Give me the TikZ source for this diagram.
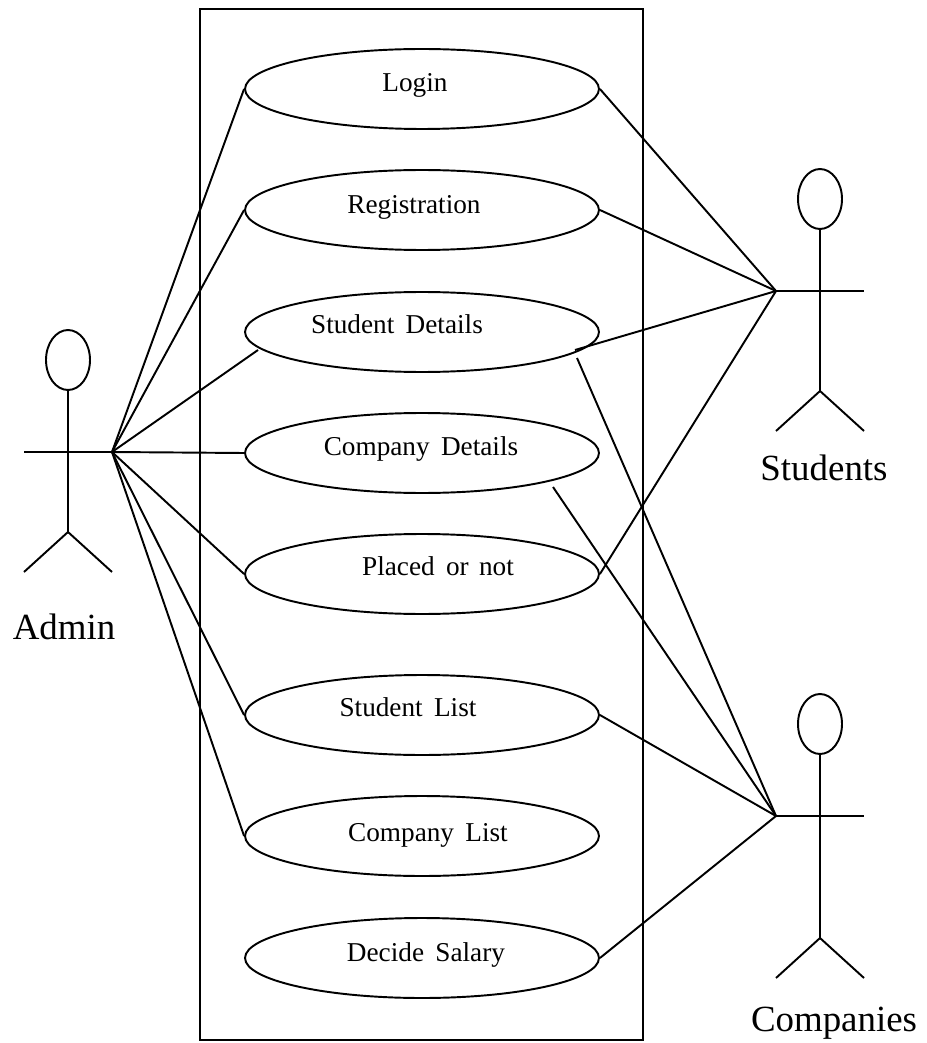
\documentclass[tikz,border=0pt]{standalone}
\usepackage{fontspec}
\setmainfont{Liberation Serif}
\usetikzlibrary{shapes.geometric}

\tikzset{
  usecase/.style={draw, ellipse, minimum width=7.08cm, minimum height=1.6cm, inner sep=0pt},
  uselabel/.style={font=\fontsize{15.5}{18}\selectfont, inner sep=0pt},
  actorlabel/.style={font=\fontsize{21}{25}\selectfont, inner sep=0pt},
}

\begin{document}
\begin{tikzpicture}[x=0.02cm, y=-0.02cm, line width=1.1pt]

\useasboundingbox (0,0) rectangle (926,1043);

%---------------- System box ----------------%
\node[draw, minimum width=8.86cm, minimum height=20.62cm, inner sep=0pt] (sysbox) at (421.5,524.5) {};

%---------------- Use cases ----------------%
\foreach \name/\y in {login/89, regist/210, studdet/332, compdet/453, placed/574, studlist/715, complist/836, salary/958} {
  \node[usecase] (\name) at (422,\y) {};
}

% labels sit a little off the ellipse centres
\node[uselabel] (loginT)    at (415,85)  {Login};
\node[uselabel] (registT)   at (414,207) {Registration};
\node[uselabel] (studdetT)  at (397,324) {Student\, Details};
\node[uselabel] (compdetT)  at (421,449) {Company\, Details};
\node[uselabel] (placedT)   at (438,566) {Placed\, or\hspace{2pt} not};
\node[uselabel] (studlistT) at (408,707) {Student\, List};
\node[uselabel] (complistT) at (428,835) {Company\, List};
\node[uselabel] (salaryT)   at (426,955) {Decide\, Salary};

%---------------- Actors ----------------%
% name / x / y of the arms / hip below arms
\foreach \name/\x/\y/\hip in {admin/68/452/80, students/820/291/100, companies/820/816/122} {
  \node[draw, ellipse, minimum width=0.88cm, minimum height=1.2cm, inner sep=0pt] (\name Head) at (\x,\y-92) {};
  \coordinate (\name Hip) at (\x,\y+\hip);
  \coordinate (\name Left) at (\x-44,\y);
  \coordinate (\name Right) at (\x+44,\y);
  \coordinate (\name FootL) at (\x-44,\y+\hip+40);
  \coordinate (\name FootR) at (\x+44,\y+\hip+40);
  \draw (\name Head) -- (\name Hip);
  \draw (\name Left) -- (\name Right);
  \draw (\name FootL) -- (\name Hip) -- (\name FootR);
}
\node[actorlabel] (adminT)     at (64,627)  {Admin};
\node[actorlabel] (studentsT)  at (824,468) {Students};
\node[actorlabel] (companiesT) at (834,1023) {Companies};

%---------------- Connectors ----------------%
\coordinate (sdAdmin) at (258,350);
\coordinate (sdStud) at (575,350);
\coordinate (sdComp) at (577,358);
\coordinate (cdComp) at (553,487);

\foreach \name in {login, regist, compdet, placed, studlist, complist} {
  \draw (adminRight) -- (\name.west);
}
\draw (adminRight) -- (sdAdmin);

\foreach \name in {login, regist, placed} {
  \draw (studentsLeft) -- (\name.east);
}
\draw (studentsLeft) -- (sdStud);

\foreach \name in {studlist, salary} {
  \draw (companiesLeft) -- (\name.east);
}
\draw (companiesLeft) -- (sdComp);
\draw (companiesLeft) -- (cdComp);

\end{tikzpicture}
\end{document}
